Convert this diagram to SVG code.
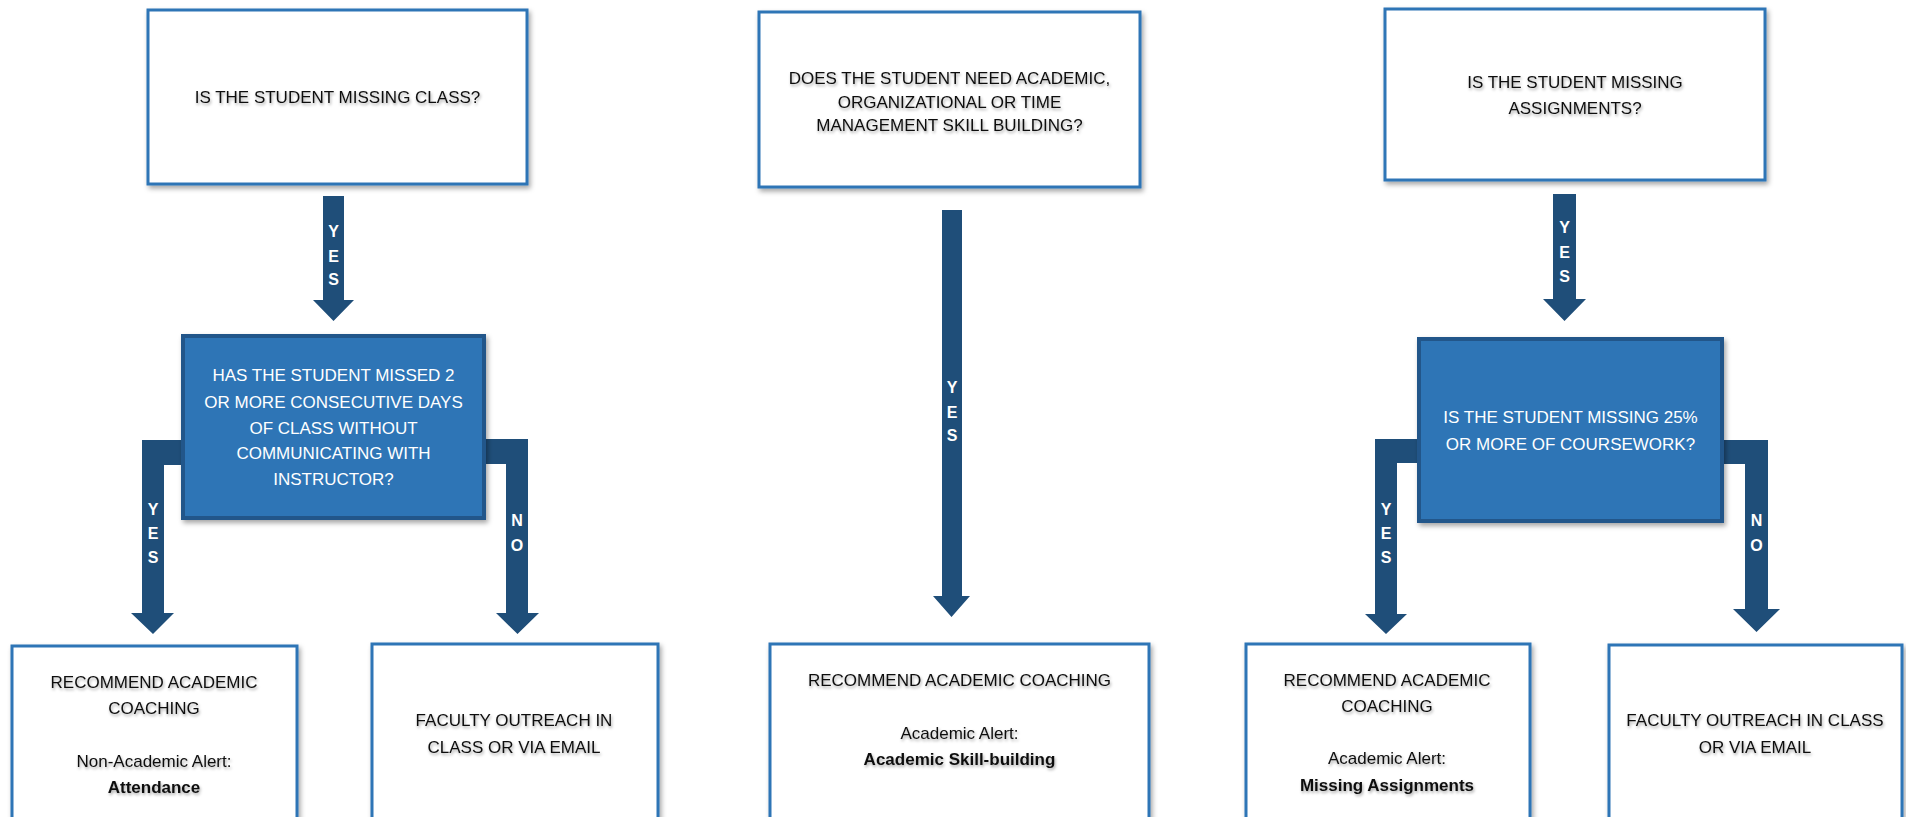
<svg xmlns="http://www.w3.org/2000/svg" width="1906" height="817" viewBox="0 0 1906 817">
<defs>
<filter id="boxShadow" x="-10%" y="-10%" width="120%" height="130%">
<feDropShadow dx="2" dy="3" stdDeviation="2.5" flood-color="#000" flood-opacity="0.35"/>
</filter>
<filter id="txtShadow" x="-5%" y="-30%" width="110%" height="160%">
<feDropShadow dx="1" dy="2" stdDeviation="1.6" flood-color="#000" flood-opacity="0.35"/>
</filter>
</defs>
<style>
.box{fill:#ffffff;stroke:#2E75B6;stroke-width:3;filter:url(#boxShadow)}
.dbox{fill:#2E75B6;stroke:#24568A;stroke-width:4;filter:url(#boxShadow)}
.arrow{fill:#1F4E79}
.t{font-family:"Liberation Sans",Arial,sans-serif;font-size:17px;fill:#111;text-anchor:middle;filter:url(#txtShadow)}
.tw{font-family:"Liberation Sans",Arial,sans-serif;font-size:17px;fill:#ffffff;text-anchor:middle}
.b{font-weight:bold}
.lbl{font-family:"Liberation Sans",Arial,sans-serif;font-size:16px;font-weight:bold;fill:#ffffff;text-anchor:middle}
</style>
<rect width="1906" height="817" fill="#ffffff"/>

<g id="connectors">
<polygon class="arrow" points="323,196 344,196 344,300 354,300 333.5,321 313,300 323,300"/>
<polygon class="arrow" points="190,440 142,440 142,613 131,613 153,634 174,613 164,613 164,465 190,465"/>
<polygon class="arrow" points="478,439 528,439 528,613 539,613 517.5,634 496,613 506,613 506,464 478,464"/>
<polygon class="arrow" points="942,210 962,210 962,596 970,596 951.5,617 933,596 942,596"/>
<polygon class="arrow" points="1553,194 1576,194 1576,299 1586,299 1564.5,321 1543,299 1553,299"/>
<polygon class="arrow" points="1425,439 1375,439 1375,614 1365,614 1386,634 1407,614 1397,614 1397,463 1425,463"/>
<polygon class="arrow" points="1716,440 1768,440 1768,609 1780,609 1756.5,632 1733,609 1745,609 1745,464 1716,464"/>
<g class="lbl">
<text x="333.5" y="237">Y</text><text x="333.5" y="262">E</text><text x="333.5" y="285">S</text>
<text x="153" y="515">Y</text><text x="153" y="539">E</text><text x="153" y="563">S</text>
<text x="517" y="526">N</text><text x="517" y="551">O</text>
<text x="952" y="393">Y</text><text x="952" y="418">E</text><text x="952" y="441">S</text>
<text x="1564.5" y="233">Y</text><text x="1564.5" y="258">E</text><text x="1564.5" y="282">S</text>
<text x="1386" y="515">Y</text><text x="1386" y="539">E</text><text x="1386" y="563">S</text>
<text x="1756.5" y="526">N</text><text x="1756.5" y="551">O</text>
</g>
</g>

<g id="q-missing-class">
<rect class="box" x="148" y="10" width="379" height="174"/>
<text class="t" x="337.5" y="103">IS THE STUDENT MISSING CLASS?</text>
</g>

<g id="q-missed-days">
<rect class="dbox" x="183" y="336" width="301" height="182"/>
<text class="tw" x="333.5" y="381">HAS THE STUDENT MISSED 2</text>
<text class="tw" x="333.5" y="408">OR MORE CONSECUTIVE DAYS</text>
<text class="tw" x="333.5" y="434">OF CLASS WITHOUT</text>
<text class="tw" x="333.5" y="459">COMMUNICATING WITH</text>
<text class="tw" x="333.5" y="485">INSTRUCTOR?</text>
</g>

<g id="r-attendance">
<rect class="box" x="12" y="646" width="285" height="190"/>
<text class="t" x="154" y="688">RECOMMEND ACADEMIC</text>
<text class="t" x="154" y="714">COACHING</text>
<text class="t" x="154" y="767">Non-Academic Alert:</text>
<text class="t b" x="154" y="793">Attendance</text>
</g>

<g id="r-outreach-1">
<rect class="box" x="372" y="644" width="286" height="190"/>
<text class="t" x="514" y="726">FACULTY OUTREACH IN</text>
<text class="t" x="514" y="753">CLASS OR VIA EMAIL</text>
</g>

<g id="q-skill-building">
<rect class="box" x="759" y="12" width="381" height="175"/>
<text class="t" x="949.5" y="84">DOES THE STUDENT NEED ACADEMIC,</text>
<text class="t" x="949.5" y="108">ORGANIZATIONAL OR TIME</text>
<text class="t" x="949.5" y="131">MANAGEMENT SKILL BUILDING?</text>
</g>

<g id="r-skill-building">
<rect class="box" x="770" y="644" width="379" height="190"/>
<text class="t" x="959.5" y="686">RECOMMEND ACADEMIC COACHING</text>
<text class="t" x="959.5" y="739">Academic Alert:</text>
<text class="t b" x="959.5" y="765">Academic Skill-building</text>
</g>

<g id="q-missing-assignments">
<rect class="box" x="1385" y="9" width="380" height="171"/>
<text class="t" x="1575" y="88">IS THE STUDENT MISSING</text>
<text class="t" x="1575" y="114">ASSIGNMENTS?</text>
</g>

<g id="q-coursework">
<rect class="dbox" x="1419" y="339" width="303" height="182"/>
<text class="tw" x="1570.5" y="423">IS THE STUDENT MISSING 25%</text>
<text class="tw" x="1570.5" y="450">OR MORE OF COURSEWORK?</text>
</g>

<g id="r-missing-assignments">
<rect class="box" x="1246" y="644" width="284" height="190"/>
<text class="t" x="1387" y="686">RECOMMEND ACADEMIC</text>
<text class="t" x="1387" y="712">COACHING</text>
<text class="t" x="1387" y="764">Academic Alert:</text>
<text class="t b" x="1387" y="791">Missing Assignments</text>
</g>

<g id="r-outreach-2">
<rect class="box" x="1609" y="645" width="293" height="190"/>
<text class="t" x="1755" y="726">FACULTY OUTREACH IN CLASS</text>
<text class="t" x="1755" y="753">OR VIA EMAIL</text>
</g>
</svg>
